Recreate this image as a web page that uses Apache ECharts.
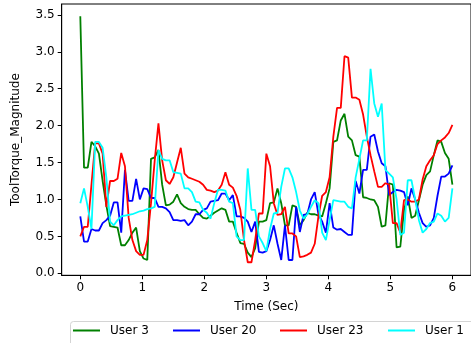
<!DOCTYPE html>
<html><head><meta charset="utf-8">
<script src="https://cdn.jsdelivr.net/npm/echarts@6/dist/echarts.min.js"></script>
<style>html,body{margin:0;padding:0;background:#fff}#c{width:471px;height:343px}</style>
</head><body><div id="c"></div>
<script>
const time = [0.00,0.06,0.12,0.18,0.24,0.30,0.36,0.42,0.48,0.54,0.60,0.66,0.72,0.78,0.84,0.90,0.96,1.02,1.08,1.14,1.20,1.26,1.32,1.38,1.44,1.50,1.56,1.62,1.68,1.74,1.80,1.86,1.92,1.98,2.04,2.10,2.16,2.22,2.28,2.34,2.40,2.46,2.52,2.58,2.64,2.70,2.76,2.82,2.88,2.94,3.00,3.06,3.12,3.18,3.24,3.30,3.36,3.42,3.48,3.54,3.60,3.66,3.72,3.78,3.84,3.90,3.96,4.02,4.08,4.14,4.20,4.26,4.32,4.38,4.44,4.50,4.56,4.62,4.68,4.74,4.80,4.86,4.92,4.98,5.04,5.10,5.16,5.22,5.28,5.34,5.40,5.46,5.52,5.58,5.64,5.70,5.76,5.82,5.88,5.94,6.00];

const user3 = [3.48,1.43,1.43,1.78,1.72,1.62,1.25,0.92,0.64,0.63,
0.62,0.38,0.38,0.45,0.55,0.62,0.3,0.2,0.18,1.55,
1.57,1.67,1.2,0.92,0.93,0.97,1.07,0.95,0.9,0.87,
0.86,0.86,0.8,0.75,0.74,0.78,0.82,0.85,0.88,0.86,
0.70,0.70,0.55,0.41,0.40,0.28,0.22,0.34,0.70,0.70,
0.72,0.95,0.96,1.15,0.95,0.65,0.65,0.92,0.9,0.65,
0.72,0.82,0.8,0.8,0.78,0.77,0.95,1.15,1.78,1.80,
2.07,2.16,1.85,1.80,1.60,1.58,1.03,1.02,1.0,0.99,
0.90,0.63,0.65,1.22,1.2,0.35,0.36,0.86,1.04,0.75,
0.78,0.99,1.2,1.33,1.38,1.6,1.80,1.78,1.63,1.55,
1.2];

const user20 = [0.77,0.43,0.43,0.60,0.58,0.58,0.68,0.72,0.78,0.96,
0.96,0.55,1.40,0.98,0.98,1.28,1.0,1.15,1.14,1.02,
1.02,0.9,0.9,0.88,0.83,0.72,0.72,0.71,0.72,0.65,
0.7,0.8,0.8,0.86,0.88,0.97,0.98,0.99,1.08,1.08,
0.99,1.06,0.77,0.77,0.75,0.7,0.56,0.70,0.29,0.28,
0.30,0.45,0.65,0.4,0.18,0.65,0.18,0.18,0.9,0.56,
0.79,0.8,1.0,1.1,0.8,0.7,0.55,0.95,0.62,0.59,
0.60,0.56,0.52,0.52,1.25,1.08,1.40,1.40,1.85,1.88,
1.65,1.49,1.45,1.06,1.10,1.13,1.12,1.1,0.92,1.15,
1.0,0.82,0.68,0.63,0.65,0.75,1.05,1.31,1.31,1.35,
1.46];

const user23 = [0.5,0.63,0.63,1.2,1.76,1.76,1.62,0.9,1.25,1.25,
1.28,1.63,1.45,0.75,0.45,0.3,0.25,0.25,0.45,0.95,
1.53,2.03,1.53,1.26,1.21,1.3,1.5,1.70,1.35,1.3,
1.28,1.26,1.24,1.2,1.13,1.12,1.10,1.12,1.2,1.37,
1.2,1.16,1.05,0.86,0.45,0.15,0.15,0.45,0.81,0.81,
1.62,1.45,0.95,0.79,0.8,0.9,0.54,0.54,0.5,0.22,
0.23,0.25,0.28,0.4,0.77,1.05,1.1,1.3,1.85,2.24,
2.24,2.94,2.92,2.38,2.38,2.35,2.15,1.85,1.6,1.38,
1.17,1.17,1.22,1.2,0.68,0.68,0.55,0.99,1.0,0.97,
0.97,1.0,1.27,1.45,1.53,1.6,1.75,1.8,1.84,1.9,
2.01];

const user1 = [0.95,1.15,0.9,0.6,1.78,1.78,1.70,1.30,0.70,0.65,
0.72,0.77,0.78,0.79,0.8,0.82,0.84,0.85,0.87,0.88,
0.9,1.67,1.55,1.53,1.53,1.37,1.36,1.35,1.15,1.15,
1.1,0.97,0.96,0.86,0.82,0.74,0.95,1.13,1.13,1.12,
0.97,0.95,0.5,0.45,0.45,1.42,0.86,0.86,0.5,0.41,
0.3,0.6,0.81,0.82,1.17,1.42,1.42,1.3,1.1,0.85,
0.74,0.8,0.9,0.99,0.95,0.55,0.45,0.72,0.99,0.98,
0.97,0.97,0.9,0.88,1.3,1.55,1.80,1.80,2.77,2.3,
2.12,2.3,1.4,1.35,1.3,1.0,0.52,0.55,1.26,1.26,
1.0,0.72,0.55,0.6,0.68,0.7,0.81,0.78,0.7,0.75,
1.15];

const seriesNames = ['User 3','User 20','User 23','User 1'];
const seriesColors = ['#008000','#0000ff','#ff0000','#00ffff'];
const seriesValues = [user3, user20, user23, user1];
const xTicks = [0,1,2,3,4,5,6];
const yTicks = [0,0.5,1.0,1.5,2.0,2.5,3.0,3.5];
const legendLeft = [73,173,280,388];

const FONT = 'DejaVu Sans';
const chart = echarts.init(document.getElementById('c'), null, {renderer:'canvas'});
const series = seriesNames.map((n,k)=>({
  name:n, type:'line', showSymbol:false, symbol:'none', animation:false,
  data: time.map((t,i)=>[t, seriesValues[k][i]]),
  lineStyle:{color:seriesColors[k], width:1.8}, itemStyle:{color:seriesColors[k]}
}));
chart.setOption({
  animation:false,
  backgroundColor:'#fff',
  grid:{left:61.7, top:4, right:-7, bottom:67.7, show:true, borderColor:'#000', borderWidth:1, backgroundColor:'transparent'},
  xAxis:{type:'value', min:-0.3, max:6.3,
    name:'Time (Sec)', nameLocation:'middle', nameGap:26,
    nameTextStyle:{fontFamily:FONT, fontSize:12, color:'#000'},
    axisLine:{show:true, onZero:false, lineStyle:{color:'#000', width:1}},
    axisTick:{show:true, length:4, customValues:xTicks, lineStyle:{color:'#000'}},
    axisLabel:{customValues:xTicks, fontFamily:FONT, fontSize:12, color:'#000', margin:7},
    splitLine:{show:false}},
  yAxis:{type:'value', min:-0.027, max:3.647,
    name:'ToolTorque_Magnitude', nameLocation:'middle', nameGap:40,
    nameTextStyle:{fontFamily:FONT, fontSize:12, color:'#000'},
    axisLine:{show:true, onZero:false, lineStyle:{color:'#000', width:1}},
    axisTick:{show:true, length:4, customValues:yTicks, lineStyle:{color:'#000'}},
    axisLabel:{customValues:yTicks, fontFamily:FONT, fontSize:12, color:'#000', margin:7,
      formatter:v=>Number(v).toFixed(1)},
    splitLine:{show:false}},
  legend: seriesNames.map((n,k)=>({
    data:[n], left:legendLeft[k], top:324.5, icon:'rect', itemWidth:27, itemHeight:2,
    padding:0, textStyle:{fontFamily:FONT, fontSize:12, color:'#000', padding:[0,0,0,5]},
    selectedMode:false
  })),
  graphic:[{type:'rect', z:-1, shape:{x:70.5, y:321.5, width:420, height:40, r:3},
    style:{fill:'#fff', stroke:'#d4d4d4', lineWidth:1}}],
  series: series
});
</script></body></html>
